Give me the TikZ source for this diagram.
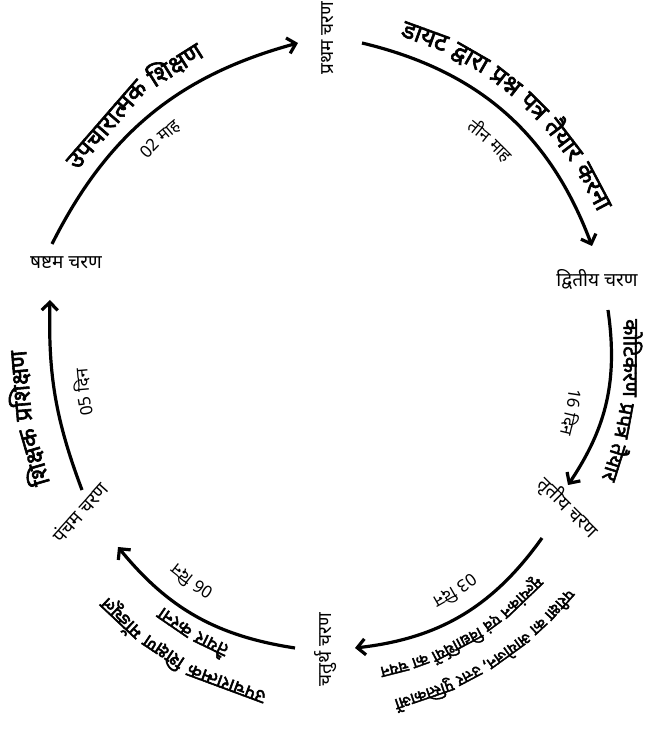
\documentclass[tikz,border=0pt]{standalone}
\usepackage{fontspec}
\newfontfamily\hindi[Script=Devanagari]{Noto Sans}
\newfontfamily\hindibold[Script=Devanagari,FakeBold=2.5]{Noto Sans}
\usetikzlibrary{arrows.meta}
\newdimen\awlen
\newcommand\stagefont{\hindi\fontsize{19}{21}\selectfont}
\newcommand\durfont{\hindi\fontsize{17}{19}\selectfont}
\newcommand\bigbold{\hindibold\fontsize{25}{27}\selectfont}
\newcommand\sidebold{\hindibold\fontsize{24}{26}\selectfont}
\newcommand\midbold{\hindibold\fontsize{21}{23}\selectfont}
\newcommand\lowbold{\hindibold\fontsize{19}{21}\selectfont}
\newcommand\smallbold{\hindibold\fontsize{16}{18}\selectfont}
% measure words outside the picture: #1 key, #2 font, #3 words
\newcommand\measurewords[3]{%
  \setbox0=\hbox{#2\ }\global\awlen=\wd0
  \xdef\awsp{\the\awlen}%
  \xdef\awtotal{0}%
  \foreach \awword [count=\awi] in {#3}{%
    \setbox0=\hbox{#2\awword}\global\awlen=\wd0
    \expandafter\xdef\csname aw#1w\awi\endcsname{\the\awlen}%
    \pgfmathsetmacro\awtmp{\awtotal+\the\awlen+\awsp}%
    \xdef\awtotal{\awtmp}%
  }%
  \pgfmathsetmacro\awtmp{\awtotal-\awsp}%
  \expandafter\xdef\csname aw#1total\endcsname{\awtmp}%
  \expandafter\xdef\csname aw#1sp\endcsname{\awsp}%
}
% #1 key, #2 centre parameter t, #3 radius factor (baseline), #4 font, #5 words
\newcommand\arctext[5]{%
  \edef\awtot{\csname aw#1total\endcsname}%
  \edef\awsps{\csname aw#1sp\endcsname}%
  \pgfmathsetmacro\awds{#3*100*sqrt((2.78*sin(#2))^2+(3.05*cos(#2))^2)*pi/180}%
  \pgfmathsetmacro\awstart{#2+\awtot/2/\awds}%
  \xdef\awcur{\awstart}%
  \foreach \awword [count=\awi] in {#5}{%
    \edef\awwd{\csname aw#1w\awi\endcsname}%
    \pgfmathsetmacro\awdsl{#3*100*sqrt((2.78*sin(\awcur))^2+(3.05*cos(\awcur))^2)*pi/180}%
    \pgfmathsetmacro\awtc{\awcur-\awwd/2/\awdsl}%
    \pgfmathsetmacro\awx{328+#3*278*cos(\awtc)}%
    \pgfmathsetmacro\awy{375+#3*305*sin(\awtc)}%
    \pgfmathsetmacro\awrot{atan2(-305*cos(\awtc),278*sin(\awtc))}%
    \node[font={#4},inner sep=0pt,anchor=base,rotate=\awrot] (#1-\awi) at (\awx,\awy) {\awword};%
    \pgfmathsetmacro\awtmp{\awtc-(\awwd/2+\awsps)/\awdsl}%
    \xdef\awcur{\awtmp}%
  }%
}
\begin{document}
\measurewords{la}{\bigbold}{डायट,द्वारा,प्रश्न,पत्र,तैयार,करना}%
\measurewords{da}{\durfont}{तीन,माह}%
\measurewords{lb}{\midbold}{कोटिकरण,प्रपत्र,तैयार}%
\measurewords{db}{\durfont}{16,दिन}%
\measurewords{lcb}{\smallbold}{परीक्षा,का,{आयोजन,},उत्तर,पुस्तिकाओं}%
\measurewords{lca}{\smallbold}{मूल्यांकन,एवं,विद्यार्थियों,का,चयन}%
\measurewords{dc}{\durfont}{03,दिन}%
\measurewords{ldb}{\lowbold}{उपचारात्मक,शिक्षण,मॉड्यूल}%
\measurewords{lda}{\lowbold}{तैयार,करना}%
\measurewords{dd}{\durfont}{06,दिन}%
\measurewords{le}{\sidebold}{शिक्षक,प्रशिक्षण}%
\measurewords{de}{\durfont}{05,दिन}%
\measurewords{lf}{\bigbold}{उपचारात्मक,शिक्षण}%
\measurewords{df}{\durfont}{02,माह}%
\begin{tikzpicture}[x=1pt,y=1pt,
  stage/.style={font=\stagefont,inner sep=0pt},
  arr/.style={line width=3.2pt,-{Straight Barb[length=8pt,width=16pt]}}]
\useasboundingbox (0,0) rectangle (645,730);
% stage labels
\node[stage,rotate=90] (s1) at (328,692) {प्रथम चरण};
\node[stage] (s2) at (597,450) {द्वितीय चरण};
\node[stage,rotate=-45] (s3) at (568,222) {तृतीय चरण};
\node[stage,rotate=90] (s4) at (326,80) {चतुर्थ चरण};
\node[stage,rotate=48] (s5) at (80,218) {पंचम चरण};
\node[stage] (s6) at (66,467) {षष्टम चरण};
% arrow end points
\coordinate (a1s) at (362,687); \coordinate (a1e) at (592,484);
\coordinate (a2s) at (608,420); \coordinate (a2e) at (568,245);
\coordinate (a3s) at (542,192); \coordinate (a3e) at (355,82);
\coordinate (a4s) at (295,82);  \coordinate (a4e) at (118,183);
\coordinate (a5s) at (82,240);  \coordinate (a5e) at (50,430);
\coordinate (a6s) at (52,486);  \coordinate (a6e) at (298,687);
\draw[arr] (a1s) to[bend left=28] (a1e);
\draw[arr] (a2s) to[bend left=21] (a2e);
\draw[arr] (a3s) to[bend left=24] (a3e);
\draw[arr] (a4s) to[bend left=21] (a4e);
\draw[arr] (a5s) to[bend left=11] (a5e);
\draw[arr] (a6s) to[bend left=24] (a6e);
% arc labels
\arctext{la}{51}{1.075}{\bigbold}{डायट,द्वारा,प्रश्न,पत्र,तैयार,करना}
\arctext{da}{50.4}{0.895}{\durfont}{तीन,माह}
\arctext{lb}{-8}{1.063}{\midbold}{कोटिकरण,प्रपत्र,तैयार}
\arctext{db}{-12.2}{0.875}{\durfont}{16,दिन}
\arctext{lcb}{-60}{1.15}{\smallbold}{परीक्षा,का,{आयोजन,},उत्तर,पुस्तिकाओं}
\arctext{lca}{-62}{1.04}{\smallbold}{मूल्यांकन,एवं,विद्यार्थियों,का,चयन}
\arctext{dc}{-59.5}{0.88}{\durfont}{03,दिन}
\arctext{ldb}{-118}{1.118}{\lowbold}{उपचारात्मक,शिक्षण,मॉड्यूल}
\arctext{lda}{-118}{1.015}{\lowbold}{तैयार,करना}
\arctext{dd}{-123.2}{0.87}{\durfont}{06,दिन}
\arctext{le}{-169}{1.08}{\sidebold}{शिक्षक,प्रशिक्षण}
\arctext{de}{-172}{0.865}{\durfont}{05,दिन}
\arctext{lf}{130}{1.07}{\bigbold}{उपचारात्मक,शिक्षण}
\arctext{df}{130.3}{0.912}{\durfont}{02,माह}
\end{tikzpicture}
\end{document}
